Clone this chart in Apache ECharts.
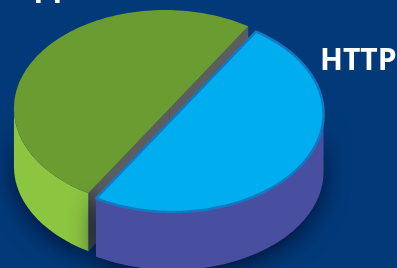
<!DOCTYPE html>
<html><head><meta charset="utf-8">
<script src="https://cdn.jsdelivr.net/npm/echarts@6/dist/echarts.min.js"></script>
<style>html,body{margin:0;padding:0;background:#023a79;}#c{width:397px;height:268px;}</style>
</head><body><div id="c"></div>
<script>
// data
const categories = ['App', 'HTTP'];
const values = [50, 50];
// styles
const topColors = ['#6b9c31', '#00aeef'];
const sideColors = ['#8cc540', '#494fa0'];
const cutColors = ['#5c5d5f', '#3a3f8a'];
const strokeColors = [null, '#1279c2'];
const labelPos = [[13, 2], [320, 61]];

const total = values.reduce((a, b) => a + b, 0);
// layout: ellipse + slight perspective shift (s) of the pie centre
const L = { cx: 168.75, cy: 111, rx: 151, ry: 98.4, h: 58, kx: 0.0297, ky: 0.05, s: 0.031, start: 58 };
const rad = d => d * Math.PI / 180;
function proj(phi) {
  const c = Math.cos(rad(phi)), sn = Math.sin(rad(phi));
  const w = 1 + L.s * c;
  return [(c + L.s) / w, sn * Math.sqrt(1 - L.s * L.s) / w];
}

function renderItem(params, api) {
  const i = params.dataIndex;
  let a0 = L.start;
  for (let j = 0; j < i; j++) a0 += 360 * values[j] / total;
  const a1 = a0 + 360 * api.value(0) / total;
  const mid = rad((a0 + a1) / 2);
  const ox = L.kx * L.rx * Math.cos(mid), oy = -L.ky * L.ry * Math.sin(mid);
  const P = (d, dz) => { const q = proj(d); return [L.cx + ox + L.rx * q[0], L.cy + oy - L.ry * q[1] + (dz || 0)]; };
  const C = dz => [L.cx + ox + L.rx * L.s, L.cy + oy + (dz || 0)];
  const arc = (s, e, dz) => { const pts = []; const n = Math.max(2, Math.ceil(Math.abs(e - s) / 1.5)); for (let t = 0; t <= n; t++) pts.push(P(s + (e - s) * t / n, dz)); return pts; };
  const children = [];
  const shadow = { shadowBlur: 24, shadowColor: 'rgba(0,10,40,0.8)', shadowOffsetY: 6 };
  [[a0, a0 - 90], [a1, a1 + 90]].forEach(([a, n]) => {
    if (Math.sin(rad(n)) < 0) {
      children.push({ type: 'polygon', shape: { points: [C(), P(a), P(a, L.h), C(L.h)] }, style: { fill: cutColors[i] } });
    }
  });
  [[180, 360], [540, 720]].forEach(([s, e]) => {
    const lo = Math.max(a0, s), hi = Math.min(a1, e);
    if (hi > lo) {
      const top = arc(lo, hi, 0), bot = arc(hi, lo, L.h);
      children.push({ type: 'polygon', shape: { points: top.concat(bot) }, style: Object.assign({ fill: sideColors[i] }, shadow) });
    }
  });
  const topPts = [C()].concat(arc(a0, a1, 0));
  const ts = { fill: topColors[i] };
  if (strokeColors[i]) { ts.stroke = strokeColors[i]; ts.lineWidth = 2.5; ts.lineJoin = 'round'; }
  children.push({ type: 'polygon', shape: { points: topPts }, style: ts });
  children.push({ type: 'text', x: labelPos[i][0], y: labelPos[i][1], style: { text: categories[i], fill: '#ffffff', font: 'bold 30px "Open Sans"', verticalAlign: i === 0 ? 'bottom' : 'middle', align: 'left' } });
  return { type: 'group', children };
}

const chart = echarts.init(document.getElementById('c'));
chart.setOption({
  backgroundColor: '#023a79',
  animation: false,
  series: [{
    type: 'custom',
    coordinateSystem: 'none',
    renderItem,
    data: values.map((v, i) => ({ name: categories[i], value: [v] }))
  }]
});
</script></body></html>
